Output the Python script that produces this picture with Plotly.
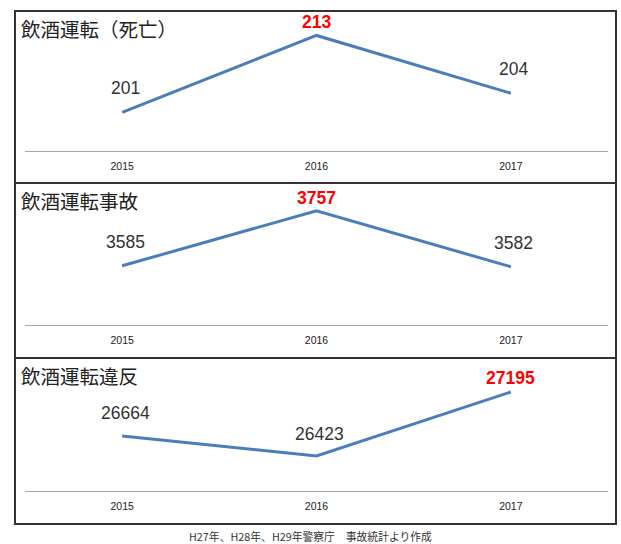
import plotly.graph_objects as go

W, H = 621, 544

years = ["2015", "2016", "2017"]
titles = ["飲酒運転（死亡）", "飲酒運転事故", "飲酒運転違反"]
deaths = [201, 213, 204]
accidents = [3585, 3757, 3582]
violations = [26664, 26423, 27195]
series = [deaths, accidents, violations]
footer = "H27年、H28年、H29年警察庁　事故統計より作成"

# layout in pixels (style only)
boxes = [(11, 183), (183, 358), (358, 524)]          # panel borders (top, bottom)
plot_px = [(22.6, 151), (197, 325), (375, 491)]      # plot area (top, bottom)
ranges = [[195, 215], [3400, 3800], [26000, 27400]]
x_left, x_right = 25, 608
box_left, box_right = 15, 616
label_shift = [[12, 1, 12], [12, 1, 12], [11, 10, 2]]

def fy(py):
    return 1 - py / H

FONT = "Noto Sans CJK JP"
fig = go.Figure()
annotations = []
shapes = []
for i, vals in enumerate(series):
    n = "" if i == 0 else str(i + 1)
    fig.add_trace(go.Scatter(
        x=years, y=vals, mode="lines",
        line=dict(color="#4a7ebb", width=3),
        xaxis="x" + n, yaxis="y" + n, showlegend=False, hoverinfo="skip"))
    top, bot = plot_px[i]
    fig.layout["xaxis" + n] = dict(
        domain=[x_left / W, x_right / W], range=[-0.5, 2.5], type="category",
        anchor="y" + n, showline=True, linecolor="#a6a6a6", linewidth=1.2,
        showgrid=False, zeroline=False, ticks="", ticklabelstandoff=5,
        tickfont=dict(family="Liberation Sans", size=10.5, color="#222222"),
        fixedrange=True)
    fig.layout["yaxis" + n] = dict(
        domain=[fy(bot), fy(top)], range=ranges[i], anchor="x" + n,
        showticklabels=False, showline=False, ticks="",
        showgrid=False, zeroline=False, fixedrange=True)
    mx = max(vals)
    for j, v in enumerate(vals):
        is_max = v == mx
        annotations.append(dict(
            x=j, y=v, xref="x" + n, yref="y" + n, text=str(v),
            showarrow=False, yanchor="bottom", yshift=label_shift[i][j],
            xshift=3 if not is_max else 0,
            font=dict(family="Liberation Sans", size=17.5,
                      color="#ff0000" if is_max else "#333333",
                      weight="bold" if is_max else "normal")))
    btop, bbot = boxes[i]
    shapes.append(dict(type="rect", xref="paper", yref="paper",
                       x0=box_left / W, x1=box_right / W, y0=fy(bbot), y1=fy(btop),
                       line=dict(color="#333333", width=2), layer="above"))
    annotations.append(dict(
        x=(box_left + 4) / W, y=fy(btop + 1), xref="paper", yref="paper",
        text=titles[i], showarrow=False, xanchor="left", yanchor="top",
        font=dict(family=FONT, size=19.5, color="#222222")))

annotations.append(dict(
    x=0.5, y=fy(536), xref="paper", yref="paper", text=footer,
    showarrow=False, xanchor="center", yanchor="middle",
    font=dict(family=FONT, size=10.8, color="#333333")))

fig.update_layout(
    width=W, height=H, margin=dict(l=0, r=0, t=0, b=0),
    paper_bgcolor="white", plot_bgcolor="rgba(0,0,0,0)",
    annotations=annotations, shapes=shapes)

fig.write_html("out.html", config={"displayModeBar": False},
               post_script="document.body.style.margin='0';document.body.style.overflow='hidden';")
